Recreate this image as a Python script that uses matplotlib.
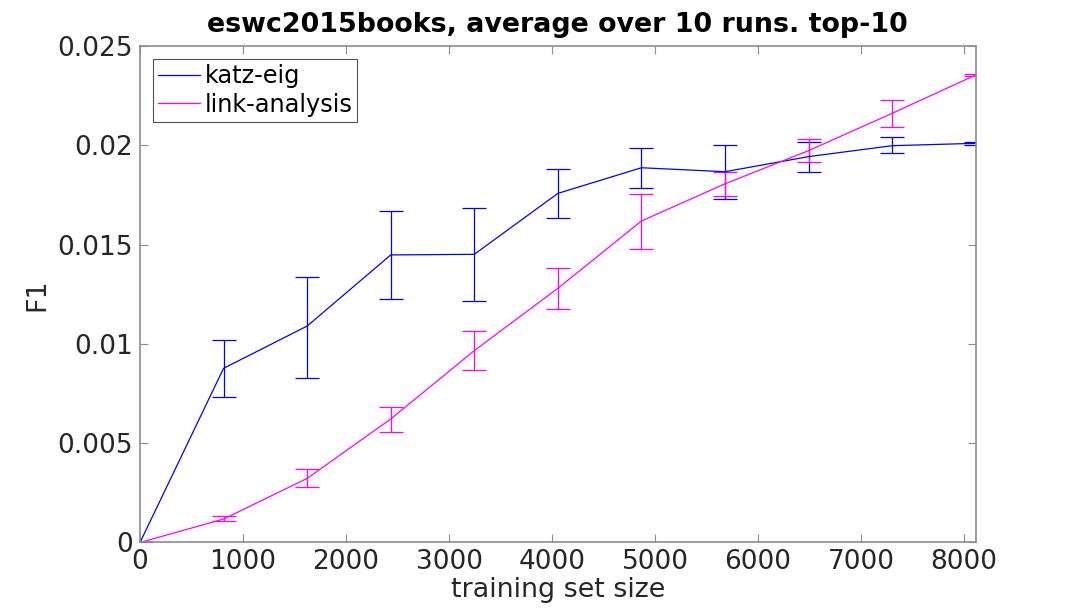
import matplotlib
matplotlib.use("Agg")
import matplotlib.pyplot as plt
from matplotlib.lines import Line2D

x = [0, 811, 1623, 2434, 3245, 4057, 4868, 5679, 6490, 7302, 8113]

katz = [0, 0.00877, 0.0109, 0.01448, 0.01451, 0.01758, 0.01887, 0.01867, 0.01943, 0.01998, 0.0201]
katz_lo = [0, 0.00734, 0.00827, 0.01225, 0.01216, 0.01632, 0.01783, 0.0173, 0.01867, 0.0196, 0.02000]
katz_hi = [0, 0.0102, 0.01337, 0.01671, 0.01683, 0.01879, 0.01986, 0.02003, 0.02015, 0.0204, 0.02018]

link = [0, 0.00118, 0.00323, 0.00622, 0.00966, 0.0128, 0.01619, 0.01806, 0.01973, 0.02161, 0.02354]
link_lo = [0, 0.00107, 0.00278, 0.00558, 0.00867, 0.01176, 0.01479, 0.01745, 0.01915, 0.0209, 0.02351]
link_hi = [0, 0.00135, 0.0037, 0.00684, 0.01063, 0.01381, 0.01756, 0.01867, 0.02032, 0.0223, 0.02357]

series_names = ['katz-eig', 'link-analysis']
xticks = [0, 1000, 2000, 3000, 4000, 5000, 6000, 7000, 8000]
yticks = [0, 0.005, 0.01, 0.015, 0.02, 0.025]
ytick_labels = ["0", "0.005", "0.01", "0.015", "0.02", "0.025"]

plt.rcParams['font.family'] = ['DejaVu Sans']
text_c = '#262626'
axis_c = '#8c8c8c'
blue = (0, 0, 1)
magenta = (1, 0, 1)

fig = plt.figure(figsize=(10.78, 6.15), dpi=100)
ax = fig.add_axes([0.1299, 0.1179, 0.9051 - 0.1299, 0.9252 - 0.1179])

def err(v, lo, hi):
    return [[a - b for a, b in zip(v, lo)], [b - a for a, b in zip(v, hi)]]

ax.errorbar(x, katz, yerr=err(katz, katz_lo, katz_hi), color=blue, lw=0.9,
            elinewidth=0.9, capsize=8.5, capthick=0.9)
ax.errorbar(x, link, yerr=err(link, link_lo, link_hi), color=magenta, lw=0.9,
            elinewidth=0.9, capsize=8.5, capthick=0.9)

ax.set_xlim(0, x[-1])
ax.set_ylim(0, 0.025)
ax.set_xticks(xticks)
ax.set_xticklabels([str(t) for t in xticks])
ax.set_yticks(yticks)
ax.set_yticklabels(ytick_labels)
ax.tick_params(direction='in', length=6, width=0.8, color=axis_c, labelcolor=text_c,
               labelsize=19, top=True, right=True, pad=5)
for s in ax.spines.values():
    s.set_color(axis_c)
    s.set_linewidth(1.2)

ax.set_title('eswc2015books, average over 10 runs. top-10', fontsize=19.4,
             fontweight='bold', color='black', pad=10)
ax.set_xlabel('training set size', fontsize=19.4, color=text_c, labelpad=1)
ax.set_ylabel('F1', fontsize=19.4, color=text_c, labelpad=5)

handles = [Line2D([], [], color=blue, lw=0.9), Line2D([], [], color=magenta, lw=0.9)]
leg = ax.legend(handles, series_names, loc='upper left', fontsize=17.3, frameon=True,
                fancybox=False, handlelength=1.75, handletextpad=0.2, borderpad=0.2,
                labelspacing=0.2, bbox_to_anchor=(0.0152, 0.9735), borderaxespad=0)
leg.get_frame().set_edgecolor('#262626')
leg.get_frame().set_linewidth(0.8)

fig.savefig('out.png', dpi=100)
